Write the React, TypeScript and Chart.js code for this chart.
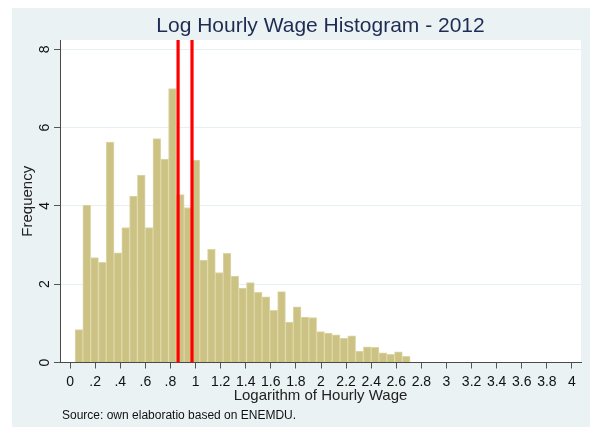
import React, { useEffect, useRef } from "react";
import { Chart, registerables } from "chart.js";

Chart.register(...registerables);

// ---- data ----
const chartTitle = "Log Hourly Wage Histogram - 2012";
const xAxisTitle = "Logarithm of Hourly Wage";
const yAxisTitle = "Frequency";
const sourceNote = "Source: own elaboratio based on ENEMDU.";

const binStart = 0.04;
const binWidth = 0.0621;
const frequencies = [
  0.84, 4.02, 2.68, 2.56, 5.63, 2.8, 3.45, 4.25, 4.79, 3.45,
  5.72, 5.2, 7.0, 4.29, 3.96, 5.17, 2.62, 2.89, 2.3, 2.79,
  2.21, 1.9, 2.04, 1.79, 1.68, 1.33, 1.81, 1.03, 1.42, 1.16,
  1.15, 0.79, 0.75, 0.71, 0.62, 0.68, 0.29, 0.4, 0.39, 0.25,
  0.21, 0.27, 0.16,
];
const redLineValues = [0.861, 0.972];

const xTickValues = [0, 0.2, 0.4, 0.6, 0.8, 1, 1.2, 1.4, 1.6, 1.8, 2, 2.2, 2.4, 2.6, 2.8, 3, 3.2, 3.4, 3.6, 3.8, 4];
const xTickLabels = ["0", ".2", ".4", ".6", ".8", "1", "1.2", "1.4", "1.6", "1.8", "2", "2.2", "2.4", "2.6", "2.8", "3", "3.2", "3.4", "3.6", "3.8", "4"];
const yTickValues = [0, 2, 4, 6, 8];
const yTickLabels = ["0", "2", "4", "6", "8"];

const xMin = -0.08;
const xMax = 4.072;
const yMin = 0;
const yMax = 8.24;

const FONT = "'Liberation Sans', Arial, sans-serif";

export default function App() {
  const ref = useRef<HTMLCanvasElement | null>(null);

  useEffect(() => {
    const canvas = ref.current;
    if (!canvas) return;

    const barData = frequencies.map((f, i) => ({ x: binStart + (i + 0.5) * binWidth, y: f }));
    const lineSets = redLineValues.map((v) => ({
      type: "line" as const,
      data: [
        { x: v, y: yMin },
        { x: v, y: yMax },
      ],
      borderColor: "#ff0000",
      borderWidth: 3.2,
      pointRadius: 0,
      fill: false,
      order: 0,
    }));

    const decor = {
      id: "decor",
      beforeDraw(chart: any) {
        const { ctx, chartArea } = chart;
        ctx.save();
        ctx.fillStyle = "#ffffff";
        ctx.fillRect(0, 0, chart.width, chart.height);
        ctx.fillStyle = "#eaf2f3";
        ctx.fillRect(12, 8, chart.width - 12, chart.height - 8);
        ctx.fillStyle = "#ffffff";
        ctx.fillRect(chartArea.left, chartArea.top, chartArea.right - chartArea.left, chartArea.bottom - chartArea.top);
        ctx.restore();
      },
      afterDraw(chart: any) {
        const { ctx, chartArea, scales } = chart;
        const xs = scales.x;
        const ys = scales.y;
        ctx.save();
        // title
        ctx.fillStyle = "#1e2b52";
        ctx.font = `21px ${FONT}`;
        ctx.textAlign = "center";
        ctx.textBaseline = "alphabetic";
        ctx.fillText(chartTitle, (chartArea.left + chartArea.right) / 2, 32);

        // x tick labels
        ctx.fillStyle = "#111111";
        ctx.font = `14px ${FONT}`;
        ctx.textAlign = "center";
        xTickValues.forEach((v, i) => {
          ctx.fillText(xTickLabels[i], xs.getPixelForValue(v), 386);
        });

        // y tick labels (rotated)
        yTickValues.forEach((v, i) => {
          const y = ys.getPixelForValue(v);
          ctx.save();
          ctx.translate(48.5, y);
          ctx.rotate(-Math.PI / 2);
          ctx.textAlign = "center";
          ctx.fillText(yTickLabels[i], 0, 0);
          ctx.restore();
        });

        // axis titles
        ctx.fillStyle = "#222222";
        ctx.font = `15px ${FONT}`;
        ctx.textAlign = "center";
        ctx.fillText(xAxisTitle, (chartArea.left + chartArea.right) / 2, 400);
        ctx.save();
        ctx.translate(32, (chartArea.top + chartArea.bottom) / 2);
        ctx.rotate(-Math.PI / 2);
        ctx.fillText(yAxisTitle, 0, 0);
        ctx.restore();

        // source note
        ctx.fillStyle = "#111111";
        ctx.font = `12px ${FONT}`;
        ctx.textAlign = "left";
        ctx.fillText(sourceNote, 62, 419);
        ctx.restore();
      },
    };

    const chart = new Chart(canvas, {
      type: "bar",
      data: {
        datasets: [
          {
            type: "bar" as const,
            data: barData as any,
            backgroundColor: "#cbc283",
            borderColor: "#ddd7a8",
            borderWidth: 1,
            barPercentage: 1,
            categoryPercentage: 1,
            order: 1,
          } as any,
          ...(lineSets as any[]),
        ],
      },
      options: {
        animation: false,
        responsive: false,
        devicePixelRatio: 1,
        layout: { padding: { left: 0, top: 40, right: 9, bottom: 0 } },
        plugins: {
          legend: { display: false },
          title: { display: false },
          tooltip: { enabled: false },
        },
        scales: {
          x: {
            type: "linear",
            min: xMin,
            max: xMax,
            offset: false,
            afterBuildTicks: (s: any) => {
              s.ticks = xTickValues.map((v) => ({ value: v }));
            },
            afterFit: (s: any) => {
              s.height = 64.5;
            },
            ticks: { display: false },
            grid: {
              offset: false,
              drawOnChartArea: false,
              drawTicks: true,
              tickLength: 6,
              tickColor: "#555555",
              color: "#555555",
            },
            border: { display: true, color: "#4a4a4a", width: 1 },
          },
          y: {
            type: "linear",
            min: yMin,
            max: yMax,
            afterBuildTicks: (s: any) => {
              s.ticks = yTickValues.map((v) => ({ value: v }));
            },
            afterFit: (s: any) => {
              s.width = 60;
            },
            ticks: { display: false },
            grid: {
              drawOnChartArea: true,
              drawTicks: true,
              tickLength: 6,
              tickColor: "#555555",
              color: "#e6eff1",
            },
            border: { display: true, color: "#4a4a4a", width: 1 },
          },
        },
      } as any,
      plugins: [decor],
    });

    return () => chart.destroy();
  }, []);

  return (
    <div style={{ position: "absolute", left: 0, top: 0, width: 590, height: 427 }}>
      <canvas ref={ref} width={590} height={427} style={{ display: "block", width: 590, height: 427 }} />
    </div>
  );
}
